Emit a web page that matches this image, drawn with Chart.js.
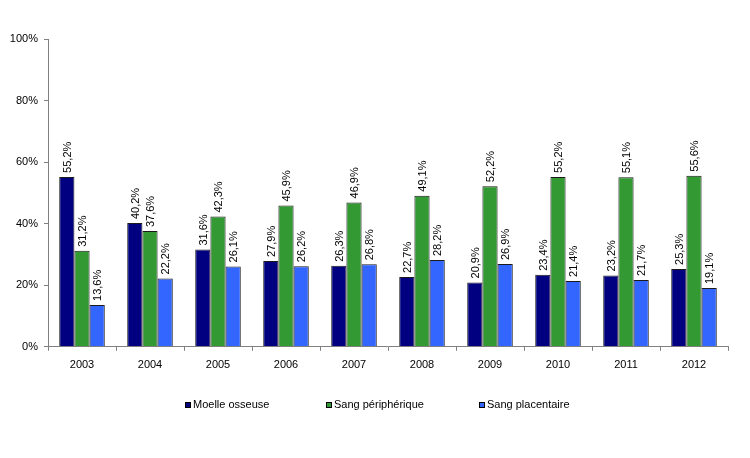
<!DOCTYPE html>
<html>
<head>
<meta charset="utf-8">
<script src="https://cdn.jsdelivr.net/npm/chart.js@4"></script>
<style>
  html, body { margin:0; padding:0; background:#fff; }
  #wrap { width:750px; height:458px; }
</style>
</head>
<body>
<div id="wrap"><canvas id="chart"></canvas></div>
<script>
// Data
const years = ['2003','2004','2005','2006','2007','2008','2009','2010','2011','2012'];
const moelle = [55.2, 40.2, 31.6, 27.9, 26.3, 22.7, 20.9, 23.4, 23.2, 25.3];
const sangPeri = [31.2, 37.6, 42.3, 45.9, 46.9, 49.1, 52.2, 55.2, 55.1, 55.6];
const sangPlac = [13.6, 22.2, 26.1, 26.2, 26.8, 28.2, 26.9, 21.4, 21.7, 19.1];
const seriesNames = ['Moelle osseuse', 'Sang périphérique', 'Sang placentaire'];
const yTicks = [0, 20, 40, 60, 80, 100];

const FONT = 'Arial, "Liberation Sans", sans-serif';
const fmt = v => v.toFixed(1).replace('.', ',') + '%';

// rotated value labels above bars
const barLabels = {
    id: 'barLabels',
    afterDatasetsDraw(chart) {
        const ctx = chart.ctx;
        ctx.save();
        ctx.font = '11px ' + FONT;
        ctx.fillStyle = '#000';
        ctx.textAlign = 'left';
        ctx.textBaseline = 'middle';
        chart.data.datasets.forEach((ds, i) => {
            chart.getDatasetMeta(i).data.forEach((bar, j) => {
                ctx.save();
                ctx.translate(bar.x + 1, bar.y - 4);
                ctx.rotate(-Math.PI / 2);
                ctx.fillText(fmt(ds.data[j]), 0, 0);
                ctx.restore();
            });
        });
        ctx.restore();
    }
};

// legend drawn at the bottom
const bottomLegend = {
    id: 'bottomLegend',
    afterDraw(chart) {
        const ctx = chart.ctx;
        const xs = [185, 326, 479];
        const y = 405;
        ctx.save();
        ctx.font = '11px ' + FONT;
        ctx.textBaseline = 'middle';
        chart.data.datasets.forEach((ds, i) => {
            ctx.fillStyle = ds.backgroundColor;
            ctx.fillRect(xs[i], y - 3, 6, 6);
            ctx.strokeStyle = '#000';
            ctx.lineWidth = 1;
            ctx.strokeRect(xs[i] + 0.5, y - 2.5, 5, 5);
            ctx.fillStyle = '#000';
            ctx.fillText(ds.label, xs[i] + 8, y);
        });
        ctx.restore();
    }
};

const makeSet = (label, data, color) => ({
    label: label, data: data, backgroundColor: color,
    borderColor: '#1a1a1a', borderWidth: 1,
    categoryPercentage: 0.67, barPercentage: 1.0
});

new Chart(document.getElementById('chart'), {
    type: 'bar',
    data: {
        labels: years,
        datasets: [
            makeSet(seriesNames[0], moelle, '#000080'),
            makeSet(seriesNames[1], sangPeri, '#339933'),
            makeSet(seriesNames[2], sangPlac, '#3366FF')
        ]
    },
    options: {
        responsive: true,
        maintainAspectRatio: false,
        animation: false,
        layout: { padding: { left: 0, right: 22, top: 39, bottom: 78 } },
        plugins: {
            legend: { display: false },
            tooltip: { enabled: false }
        },
        scales: {
            x: {
                grid: { display: true, drawOnChartArea: false, tickLength: 4, color: '#808080', offset: true },
                border: { color: '#808080' },
                ticks: { color: '#000', font: { family: FONT, size: 11 }, padding: 8, maxRotation: 0 }
            },
            y: {
                min: 0, max: 100,
                afterFit(axis) { axis.width = 48; },
                afterBuildTicks(axis) { axis.ticks = yTicks.map(v => ({ value: v })); },
                grid: { display: true, drawOnChartArea: false, tickLength: 4, color: '#808080' },
                border: { color: '#808080' },
                ticks: { color: '#000', font: { family: FONT, size: 11 }, padding: 6, callback: v => v + '%' }
            }
        }
    },
    plugins: [barLabels, bottomLegend]
});
</script>
</body>
</html>
